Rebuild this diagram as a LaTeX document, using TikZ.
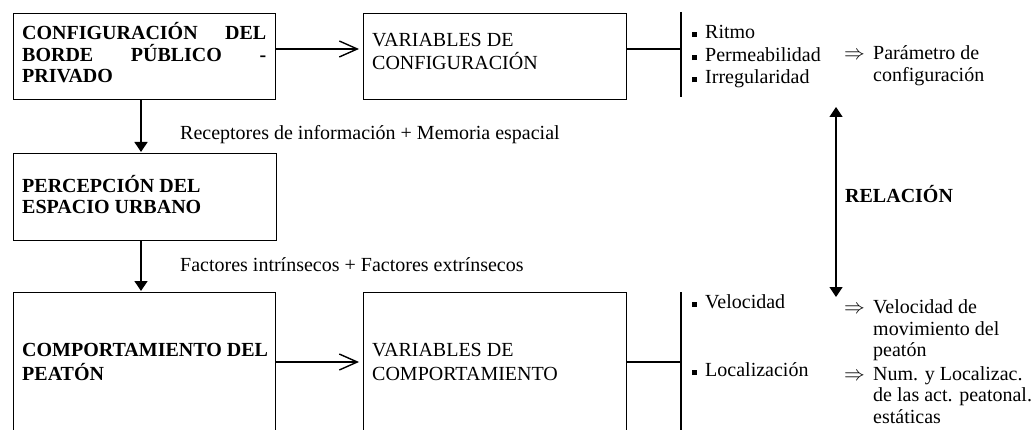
\documentclass[tikz,border=0pt]{standalone}
\usepackage{fontspec}
\setmainfont{Liberation Serif}
\usetikzlibrary{arrows.meta,calc}
\newcommand\sqbullet{\raisebox{1.6pt}{\rule{5pt}{5pt}}\hspace{8pt}}
\newcommand\impl{\makebox[29pt][l]{$\Rightarrow$}}
\begin{document}
\begin{tikzpicture}[x=1pt,y=-1pt,
  box/.style={draw, line width=1.1pt, anchor=north west, inner sep=0pt},
  txt/.style={anchor=base west, inner sep=0pt, font=\fontsize{20}{23}\selectfont},
  btxt/.style={anchor=base west, inner sep=0pt, font=\fontsize{20}{23}\selectfont\bfseries},
  varrow/.style={line width=1.4pt, -{Triangle[length=10pt,width=13pt]}},
  darrow/.style={line width=1.4pt, {Triangle[length=10pt,width=13pt]}-{Triangle[length=10pt,width=13pt]}},
  harrow/.style={line width=1.4pt, -{Straight Barb[length=18pt,width=16pt,line width=1.4pt]}},
  conn/.style={line width=2pt},
  bar/.style={line width=1.4pt}]
\useasboundingbox (0,0) rectangle (1032,430);
\clip (0,0) rectangle (1032,430);
% boxes
\node[box, minimum width=262pt, minimum height=86pt] (b1) at (13,13) {};
\node[box, minimum width=263pt, minimum height=86pt] (b2) at (363,13) {};
\node[box, minimum width=263pt, minimum height=87pt] (b3) at (13,153) {};
\node[box, minimum width=262pt, minimum height=160pt] (b4) at (13,292) {};
\node[box, minimum width=263pt, minimum height=160pt] (b5) at (363,292) {};
% box texts
\node[btxt] (t1a) at (22,39.5) {\makebox[244pt][s]{CONFIGURACIÓN DEL}};
\node[btxt] (t1b) at (22,61.5) {\makebox[244pt][s]{BORDE PÚBLICO -}};
\node[btxt] (t1c) at (22,83) {PRIVADO};
\node[txt] (t2a) at (372,47) {VARIABLES DE};
\node[txt] (t2b) at (372,69.5) {CONFIGURACIÓN};
\node[btxt] (t3a) at (22,192.3) {PERCEPCIÓN DEL};
\node[btxt] (t3b) at (22,214) {ESPACIO URBANO};
\node[btxt] (t4a) at (22,356.7) {COMPORTAMIENTO DEL};
\node[btxt] (t4b) at (22,380) {PEATÓN};
\node[txt] (t5a) at (372,356.7) {VARIABLES DE};
\node[txt] (t5b) at (372,380) {COMPORTAMIENTO};
% labels
\node[txt] (l1) at (180,140) {Receptores de información + Memoria espacial};
\node[txt] (l2) at (180,271.7) {Factores intrínsecos + Factores extrínsecos};
\node[btxt] (rel) at (845,203) {RELACIÓN};
% bullets top
\node[txt] (r1) at (692,38.3) {\sqbullet Ritmo};
\node[txt] (r2) at (692,61.7) {\sqbullet Permeabilidad};
\node[txt] (r3) at (692,84) {\sqbullet Irregularidad};
\node[txt] (p1) at (844,60) {\impl Parámetro de};
\node[txt] (p2) at (873,81.7) {configuración};
% bullets bottom
\node[txt] (v1) at (692,308.3) {\sqbullet Velocidad};
\node[txt] (v2) at (692,376.7) {\sqbullet Localización};
\node[txt] (q1) at (844,313.3) {\impl Velocidad de};
\node[txt] (q2) at (873,335) {movimiento del};
\node[txt] (q3) at (873,356.7) {peatón};
\node[txt] (q4) at (844,380) {\impl Num. y Localizac.};
\node[txt] (q5) at (873,401.7) {de las act. peatonal.};
\node[txt] (q6) at (873,423.3) {estáticas};
% helper coordinates
\coordinate (y1) at (0,49);
\coordinate (y2) at (0,362);
\coordinate (ax) at (141,0);
\coordinate (bar1t) at (681,12);
\coordinate (bar1b) at (681,97);
\coordinate (bar2t) at (681,292);
\coordinate (bar2b) at (681,440);
\coordinate (rtop) at (836,107);
\coordinate (rbot) at (836,297);
% connectors
\draw[harrow, shorten >=4pt] (b1.east |- y1) -- (b2.west |- y1);
\draw[harrow, shorten >=4pt] (b4.east |- y2) -- (b5.west |- y2);
\draw[varrow, shorten >=1pt] (b1.south -| ax) -- (b3.north -| ax);
\draw[varrow, shorten >=1pt] (b3.south -| ax) -- (b4.north -| ax);
\draw[bar] (bar1t) -- (bar1b);
\draw[bar] (bar2t) -- (bar2b);
\draw[conn] (b2.east |- y1) -- (bar1t |- y1);
\draw[conn] (b5.east |- y2) -- (bar2t |- y2);
\draw[darrow] (rtop) -- (rbot);
\end{tikzpicture}
\end{document}
